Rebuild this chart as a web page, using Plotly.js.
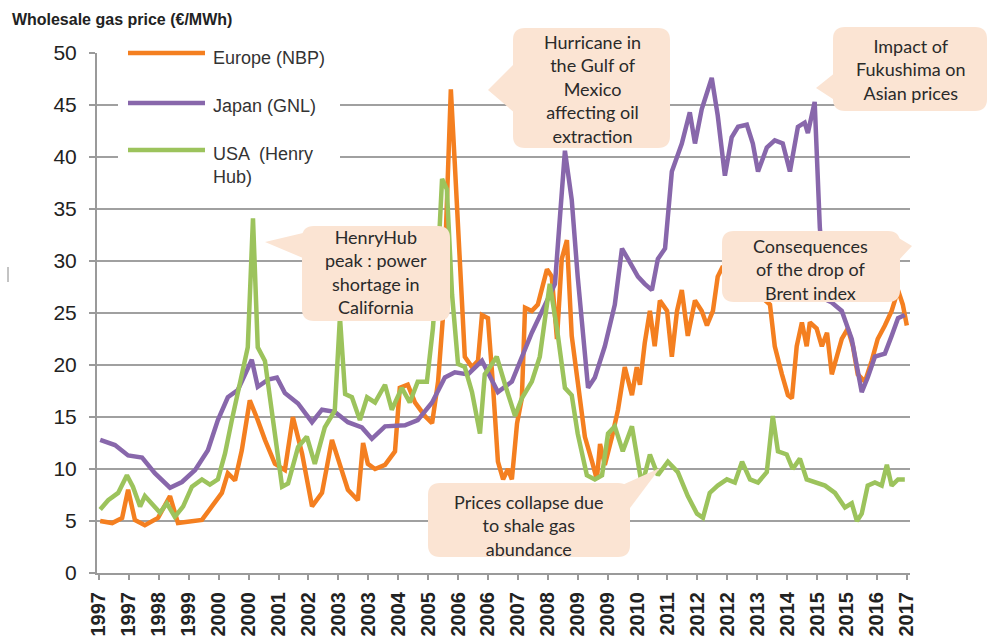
<!DOCTYPE html>
<html>
<head>
<meta charset="utf-8">
<script src="https://cdn.plot.ly/plotly-3.0.1.min.js"></script>
<style>html,body{margin:0;padding:0;background:#fff;}#chart{width:990px;height:642px;}</style>
</head>
<body>
<div id="chart"></div>
<script>
// ---- Data (decimal year, €/MWh) ----
const europeX = [1997.03,1997.33,1997.58,1997.73,1997.90,1998.15,1998.48,1998.78,1998.98,1999.33,1999.58,1999.83,2000.08,2000.23,2000.41,2000.58,2000.78,2000.98,2001.16,2001.41,2001.66,2001.86,2002.09,2002.34,2002.59,2002.84,2003.09,2003.24,2003.49,2003.62,2003.74,2003.92,2004.17,2004.42,2004.54,2004.74,2004.92,2005.17,2005.35,2005.50,2005.62,2005.75,2005.82,2005.92,2006.05,2006.17,2006.35,2006.50,2006.60,2006.75,2006.87,2007.00,2007.13,2007.25,2007.35,2007.48,2007.60,2007.68,2007.85,2008.00,2008.23,2008.35,2008.48,2008.60,2008.73,2008.85,2009.00,2009.18,2009.36,2009.48,2009.56,2009.68,2009.86,2010.01,2010.18,2010.36,2010.48,2010.56,2010.68,2010.81,2010.93,2011.06,2011.24,2011.36,2011.49,2011.61,2011.76,2011.94,2012.11,2012.24,2012.39,2012.51,2012.64,2012.94,2013.32,2013.62,2013.82,2013.94,2014.12,2014.27,2014.37,2014.49,2014.62,2014.74,2014.82,2014.99,2015.12,2015.25,2015.37,2015.50,2015.62,2015.77,2015.90,2016.02,2016.20,2016.37,2016.52,2016.70,2016.87,2017.03,2017.15,2017.25];
const europeY = [5.0,4.8,5.3,8.0,5.1,4.6,5.3,7.4,4.8,5.0,5.1,6.4,7.7,9.6,8.9,11.8,16.6,14.7,12.8,10.5,9.9,15.0,11.5,6.4,7.7,12.8,9.6,8.0,7.0,12.5,10.5,10.0,10.4,11.7,17.8,18.1,16.4,15.1,14.4,18.4,24.5,38.6,46.5,39.3,28.5,20.8,19.8,20.4,24.8,24.5,18.4,10.7,9.0,10.0,9.0,14.4,16.8,25.5,25.2,25.8,29.2,28.5,22.5,30.2,32.0,22.8,18.4,13.1,10.7,9.0,12.4,10.4,13.1,15.7,19.8,17.1,19.8,18.1,22.1,25.2,21.8,26.2,25.2,20.8,25.2,27.2,22.8,26.2,25.2,23.8,25.2,28.5,29.5,27.0,28.0,26.5,25.8,21.8,19.1,17.1,16.8,21.8,24.1,21.8,24.1,23.5,21.8,23.1,19.1,20.8,22.5,23.5,21.8,19.1,18.4,20.4,22.5,23.8,25.2,27.2,25.8,23.8];

const japanX = [1997.03,1997.40,1997.73,1998.08,1998.40,1998.78,1999.08,1999.41,1999.73,1999.98,2000.23,2000.48,2000.83,2000.98,2001.24,2001.46,2001.66,2001.99,2002.34,2002.59,2002.91,2003.24,2003.59,2003.84,2004.17,2004.67,2004.99,2005.35,2005.67,2005.92,2006.25,2006.60,2007.00,2007.35,2007.85,2008.18,2008.43,2008.68,2008.85,2009.00,2009.26,2009.43,2009.68,2009.93,2010.11,2010.26,2010.51,2010.68,2010.86,2011.01,2011.19,2011.36,2011.61,2011.81,2011.94,2012.11,2012.36,2012.51,2012.69,2012.86,2013.02,2013.24,2013.39,2013.52,2013.74,2013.94,2014.14,2014.32,2014.52,2014.69,2014.77,2014.94,2015.07,2015.22,2015.37,2015.62,2015.87,2016.12,2016.27,2016.45,2016.70,2016.87,2017.03,2017.20];
const japanY = [12.8,12.3,11.3,11.1,9.6,8.2,8.75,9.9,11.8,14.7,16.9,17.6,20.5,17.9,18.6,18.8,17.3,16.3,14.5,15.7,15.5,14.5,14.0,12.9,14.1,14.2,14.7,16.4,18.8,19.3,19.1,20.4,17.4,18.4,23.1,25.8,27.8,40.6,35.9,28.5,17.8,18.8,21.8,25.8,31.2,30.2,28.5,27.8,27.2,30.2,31.2,38.6,41.3,44.3,41.3,44.6,47.6,44.0,38.2,41.9,42.9,43.1,41.3,38.6,40.9,41.6,41.3,38.6,42.9,43.3,42.3,45.3,33.2,26.3,26.0,25.2,22.5,17.4,18.8,20.8,21.1,22.8,24.5,24.8];

const usaX = [1997.03,1997.23,1997.48,1997.70,1997.85,1998.03,1998.15,1998.33,1998.53,1998.70,1998.90,1999.11,1999.33,1999.58,1999.78,1999.98,2000.16,2000.33,2000.58,2000.73,2000.86,2000.98,2001.16,2001.34,2001.59,2001.74,2001.99,2002.21,2002.41,2002.66,2002.91,2003.04,2003.17,2003.34,2003.54,2003.72,2003.92,2004.17,2004.34,2004.59,2004.79,2004.99,2005.22,2005.37,2005.50,2005.60,2005.72,2005.85,2006.00,2006.17,2006.35,2006.55,2006.67,2006.80,2006.97,2007.18,2007.43,2007.60,2007.85,2008.05,2008.30,2008.48,2008.68,2008.85,2009.00,2009.23,2009.43,2009.61,2009.76,2009.93,2010.13,2010.36,2010.51,2010.61,2010.81,2011.01,2011.26,2011.51,2011.76,2011.99,2012.14,2012.31,2012.51,2012.74,2012.94,2013.12,2013.32,2013.52,2013.74,2013.89,2014.02,2014.24,2014.39,2014.57,2014.74,2014.94,2015.20,2015.45,2015.70,2015.87,2016.00,2016.12,2016.27,2016.45,2016.62,2016.75,2016.87,2017.03,2017.20];
const usaY = [6.1,7.0,7.7,9.4,8.3,6.4,7.4,6.7,5.8,6.7,5.4,6.4,8.3,9.0,8.5,9.0,11.5,14.7,19.1,21.7,34.1,21.7,20.4,15.6,8.3,8.6,12.1,13.1,10.5,14.0,15.6,24.6,17.2,16.9,14.7,16.9,16.4,18.1,15.7,17.8,16.4,18.4,18.4,23.5,30.2,37.9,36.9,26.8,20.1,19.8,17.4,13.4,19.1,19.8,20.8,18.1,15.1,16.8,18.4,20.8,27.8,23.5,17.8,17.1,13.4,9.4,9.0,9.4,13.4,14.1,11.7,14.1,11.0,8.4,11.4,9.4,10.7,9.7,7.4,5.7,5.3,7.7,8.4,9.0,8.7,10.7,9.0,8.7,9.7,15.1,11.7,11.4,10.0,11.0,9.0,8.7,8.4,7.7,6.3,6.7,5.0,5.7,8.4,8.7,8.4,10.4,8.4,9.0,9.0];

const seriesNames = ["Europe (NBP)", "Japan (GNL)", "USA  (Henry<br>Hub)"];
const tickVals = [1997,1997.75,1998.5,1999.25,2000,2000.75,2001.5,2002.25,2003,2003.75,2004.5,2005.25,2006,2006.75,2007.5,2008.25,2009,2009.75,2010.5,2011.25,2012,2012.75,2013.5,2014.25,2015,2015.75,2016.5,2017.25];
const tickText = ["1997","1997","1998","1999","2000","2000","2001","2002","2003","2003","2004","2005","2006","2006","2007","2008","2009","2009","2010","2011","2012","2012","2013","2014","2015","2015","2016","2017"];

// ---- Styling / layout helpers ----
const colors = ["#f47f20", "#8867ab", "#9cc35c"];
const L = 97, R = 910, T = 53, B = 573;
const X = px => (px - L) / (R - L);
const Y = py => (B - py) / (B - T);

function roundRect(x0, y0, x1, y1, r) {
  const rx = r / (R - L), ry = r / (B - T);
  const a = X(x0), b = X(x1), c = Y(y0), d = Y(y1);
  return `M${a+rx},${c} L${b-rx},${c} Q${b},${c} ${b},${c-ry} L${b},${d+ry} Q${b},${d} ${b-rx},${d} L${a+rx},${d} Q${a},${d} ${a},${d+ry} L${a},${c-ry} Q${a},${c} ${a+rx},${c} Z`;
}
function tri(p1, p2, p3) {
  return `M${X(p1[0])},${Y(p1[1])} L${X(p2[0])},${Y(p2[1])} L${X(p3[0])},${Y(p3[1])} Z`;
}
const fill = "#fbe4d3";
const callouts = [
  {box:[302,226,450,321], tip:[[265,242],[303,233],[303,258]], cx:376, cy:272, text:"HenryHub<br>peak : power<br>shortage in<br>California"},
  {box:[513,28,670,148], tip:[[488,90],[516,62],[516,114]], cx:592, cy:89, text:"Hurricane in<br>the Gulf of<br>Mexico<br>affecting oil<br>extraction"},
  {box:[833,27,987,111], tip:[[816,88],[836,72],[836,101]], cx:911, cy:69, text:"Impact of<br>Fukushima on<br>Asian prices"},
  {box:[722,231,900,302], tip:[[912,246],[897,237],[897,262]], cx:810, cy:269, text:"Consequences<br>of the drop of<br>Brent index"},
  {box:[428,483,630,557], tip:[[660,468],[620,486],[630,508]], cx:529, cy:525, text:"Prices collapse due<br>to shale gas<br>abundance"}
];

const shapes = [];
const annotations = [];
// legend (drawn by hand to match the long sample lines)
shapes.push({type:"rect", xref:"paper", yref:"paper", x0:X(118), x1:X(340), y0:Y(192), y1:Y(42), fillcolor:"#ffffff", line:{width:0}, layer:"above"});
const legY = [53, 103, 150];
const legTextY = [58, 106, 165];
for (let i = 0; i < 3; i++) {
  shapes.push({type:"line", xref:"paper", yref:"paper", x0:X(128), x1:X(205), y0:Y(legY[i]), y1:Y(legY[i]), line:{color:colors[i], width:4.5}, layer:"above"});
  annotations.push({xref:"paper", yref:"paper", x:X(211), y:Y(legTextY[i]), xanchor:"left", yanchor:"middle", align:"left", showarrow:false, text:seriesNames[i], font:{family:"Arial, Liberation Sans, sans-serif", size:18, color:"#333"}});
}
// callouts
callouts.forEach(c => {
  shapes.push({type:"path", xref:"paper", yref:"paper", path:roundRect(c.box[0], c.box[1], c.box[2], c.box[3], 12), fillcolor:fill, line:{width:0}, layer:"above"});
  shapes.push({type:"path", xref:"paper", yref:"paper", path:tri(c.tip[0], c.tip[1], c.tip[2]), fillcolor:fill, line:{width:0}, layer:"above"});
  annotations.push({xref:"paper", yref:"paper", x:X(c.cx), y:Y(c.cy), xanchor:"center", yanchor:"middle", align:"center", showarrow:false, text:c.text, font:{family:"Lato, Open Sans, sans-serif", size:18, color:"#2a2a2a"}});
});
// small stray mark at left edge
shapes.push({type:"line", xref:"paper", yref:"paper", x0:X(8), x1:X(8), y0:Y(267), y1:Y(282), line:{color:"#888", width:1}, layer:"above"});

const traces = [
  {x:europeX, y:europeY, name:"Europe (NBP)", type:"scatter", mode:"lines", line:{color:colors[0], width:4.5}},
  {x:japanX, y:japanY, name:"Japan (GNL)", type:"scatter", mode:"lines", line:{color:colors[1], width:4.5}},
  {x:usaX, y:usaY, name:"USA (Henry Hub)", type:"scatter", mode:"lines", line:{color:colors[2], width:4.5}}
];

const layout = {
  width: 990, height: 642,
  margin: {l: L, r: 990 - R, t: T, b: 642 - B},
  paper_bgcolor: "#fff", plot_bgcolor: "#fff",
  showlegend: false,
  title: {text: "<b>Wholesale gas price (€/MWh)</b>", font:{family:"Arial, Liberation Sans, sans-serif", size:16, color:"#222"}, xref:"container", yref:"container", x:0.012, xanchor:"left", y:1 - 19/642, yanchor:"middle"},
  xaxis: {
    range: [1996.95, 2017.33], tickmode:"array", tickvals: tickVals, ticktext: tickText, tickangle: -90,
    tickfont: {family:"Arial, Liberation Sans, sans-serif", size:20, color:"#222", weight:"bold"},
    ticks:"outside", ticklen:5, tickcolor:"#9a9a9a", tickwidth:2, ticklabelstandoff:4,
    showline:true, linecolor:"#9a9a9a", linewidth:2, showgrid:false, zeroline:false
  },
  yaxis: {
    range: [0, 50], tick0:0, dtick:5,
    tickfont: {family:"Arial, Liberation Sans, sans-serif", size:21, color:"#222"},
    ticks:"outside", ticklen:6, tickcolor:"#9a9a9a", tickwidth:2, ticklabelstandoff:8,
    showline:true, linecolor:"#9a9a9a", linewidth:2, gridcolor:"#a0a0a0", gridwidth:2, zeroline:false
  },
  shapes: shapes,
  annotations: annotations
};

Plotly.newPlot("chart", traces, layout, {displayModeBar:false, staticPlot:true});
</script>
</body>
</html>
